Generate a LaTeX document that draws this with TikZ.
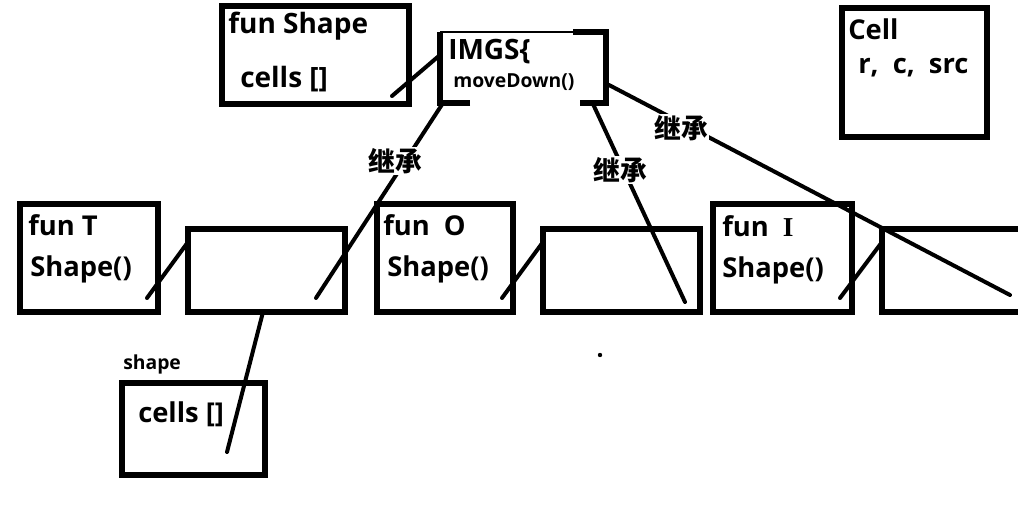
\documentclass[tikz,border=0pt]{standalone}
\usepackage{fontspec}
\setmainfont{Open Sans}
\newfontfamily\cjkfont{Noto Sans CJK SC}
\newfontfamily\seriffont{Liberation Serif}

\tikzset{
  box/.style={line width=3.8pt},
  link/.style={line width=3pt, line cap=round},
  big/.style={anchor=base west, inner sep=0pt, font=\fontsize{21}{21}\selectfont\bfseries},
  mid/.style={anchor=base west, inner sep=0pt, font=\fontsize{20.5}{20.5}\selectfont\bfseries},
  small/.style={anchor=base west, inner sep=0pt, font=\fontsize{14.5}{14.5}\selectfont\bfseries},
  jicheng/.style={inner sep=1pt, fill=white, font=\cjkfont\fontsize{20}{20}\selectfont\bfseries},
}

\begin{document}
\begin{tikzpicture}[x=0.75pt, y=-0.75pt]
            \useasboundingbox (0,0) rectangle (1018,514);

            % boxes
            \coordinate (S1) at (222,6);    \coordinate (S2) at (409,104);
            \coordinate (G1) at (440,32);   \coordinate (G2) at (606,103);
            \coordinate (T1) at (20,204);   \coordinate (T2) at (158,312);
            \coordinate (E1) at (188,229);  \coordinate (E2) at (345,312);
            \coordinate (O1) at (377,204);  \coordinate (O2) at (513,312);
            \coordinate (F1) at (543,229);  \coordinate (F2) at (700,312);
            \coordinate (I1) at (713,204);  \coordinate (I2) at (852,312);
            \coordinate (K1) at (882,229);  \coordinate (K2) at (1020,312);
            \coordinate (C1) at (842,8);    \coordinate (C2) at (987,137);
            \coordinate (P1) at (122,383);  \coordinate (P2) at (265,475);

            \draw[box] (S1) rectangle (S2);
            \draw[box] (T1) rectangle (T2);
            \draw[box] (E1) rectangle (E2);
            \draw[box] (O1) rectangle (O2);
            \draw[box] (F1) rectangle (F2);
            \draw[box] (I1) rectangle (I2);
            \draw[box] (C1) rectangle (C2);
            \draw[box] (P1) rectangle (P2);
            \draw[box] (K2 |- K1) -- (K1) -- (K1 |- K2) -- (K2);

            % IMGS box, bottom edge broken
            \draw[line width=2pt] (G1) -- (573,32);
            \draw[box] (573,32) -- (G2 |- G1) -- (G2) -- (580,103);
            \draw[box] (470,103) -- (G1 |- G2) -- (G1);

            % ends of the lines
            \coordinate (a1) at (440,55);   \coordinate (a2) at (392,96);
            \coordinate (b1) at (443,103);  \coordinate (b2) at (316,298);
            \coordinate (c1) at (593,104);  \coordinate (c2) at (685,302);
            \coordinate (d1) at (609,85);   \coordinate (d2) at (1010,295);
            \coordinate (t1) at (147,298);  \coordinate (t2) at (188,242);
            \coordinate (o1) at (502,298);  \coordinate (o2) at (543,242);
            \coordinate (i1) at (840,298);  \coordinate (i2) at (882,242);
            \coordinate (e1) at (263,312);  \coordinate (e2) at (227,452);

            \draw[link] (a1) -- (a2);
            \draw[link] (b1) -- (b2);
            \draw[link] (c1) -- (c2);
            \draw[link] (d1) -- (d2);
            \draw[link] (t1) -- (t2);
            \draw[link] (o1) -- (o2);
            \draw[link] (i1) -- (i2);
            \draw[link] (e1) -- (e2);

            \fill (600,355) circle (2.2);

            % texts
            \node[big] (shapename) at (228,33) {fun Shape};
            \node[big] (shapecells) at (240,87) {cells []};
            \node[big] (imgs) at (448,60) {IMGS\{};
            \node[small] (movedown) at (453,87) {moveDown()};
            \node[mid] (funt) at (28,235) {fun T};
            \node[mid] (shapet) at (30,276) {Shape()};
            \node[mid] (funo) at (383,235) {fun\ \ O};
            \node[mid] (shapeo) at (387,276) {Shape()};
            \node[mid] (funi) at (722,236) {fun\ \ {\seriffont I}};
            \node[mid] (shapei) at (722,277) {Shape()};
            \node[mid] (cellname) at (848,40) {Cell};
            \node[mid] (cellargs) at (858,73) {r,\ \ c,\ \ src};
            \node[small] (shapelabel) at (123,369) {shape};
            \node[mid] (cells) at (138,422) {cells []};
            \node[jicheng] (jc1) at (395,161) {继承};
            \node[jicheng] (jc2) at (620,170) {继承};
            \node[jicheng] (jc3) at (681,128) {继承};
        \end{tikzpicture}
\end{document}
